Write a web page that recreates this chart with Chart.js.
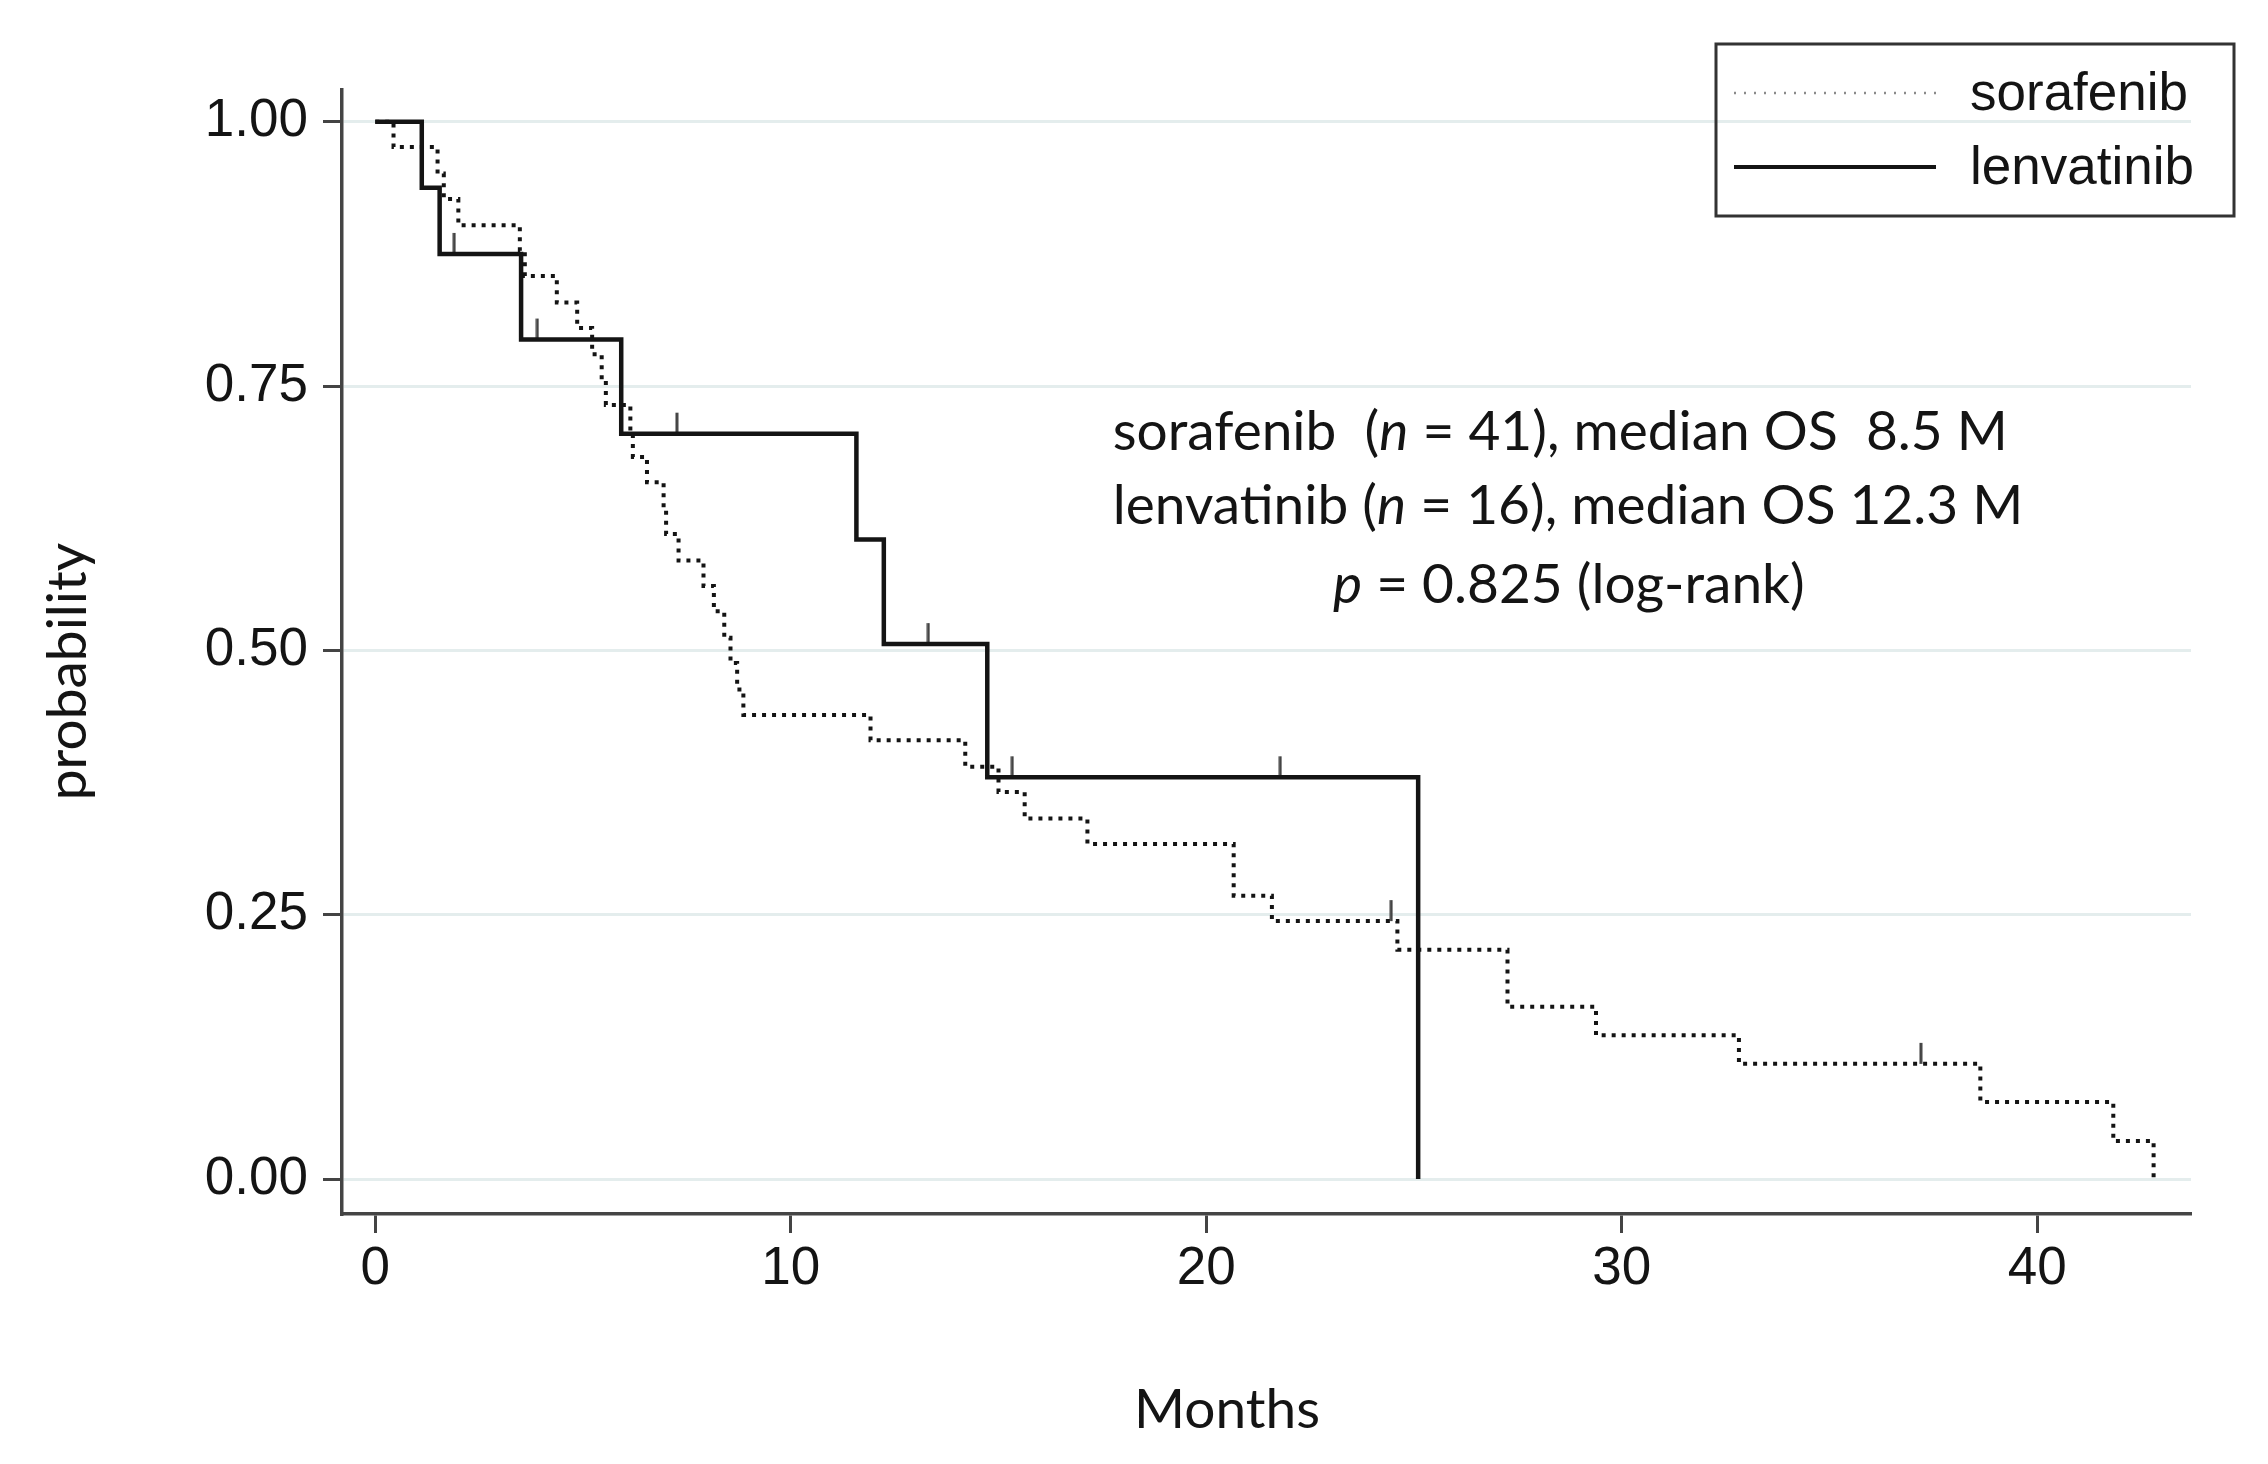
<!DOCTYPE html>
<html>
<head>
<meta charset="utf-8">
<script src="https://cdn.jsdelivr.net/npm/chart.js@4.4.4/dist/chart.umd.min.js"></script>
<style>
  html, body { margin: 0; padding: 0; background: #fff; }
  #wrap { width: 2268px; height: 1464px; position: relative; }
</style>
</head>
<body>
<div id="wrap"><canvas id="km"></canvas></div>
<script>
// Kaplan-Meier overall survival, sorafenib vs lenvatinib
const sorafenibMonths = [0, 0.44, 1.5, 1.65, 2.0, 3.48, 3.6, 4.37, 4.86, 5.22, 5.45, 5.55, 6.14, 6.2, 6.54, 6.94, 7.0, 7.3, 7.9, 8.15, 8.4, 8.55, 8.71, 8.86, 11.92, 14.2, 15.0, 15.63, 17.14, 20.66, 21.58, 24.6, 27.25, 29.38, 32.82, 38.63, 41.83, 42.8];
const sorafenibSurv = [1, 0.976, 0.951, 0.927, 0.902, 0.878, 0.854, 0.829, 0.805, 0.780, 0.756, 0.732, 0.707, 0.683, 0.659, 0.634, 0.610, 0.585, 0.561, 0.537, 0.512, 0.488, 0.463, 0.439, 0.415, 0.390, 0.366, 0.341, 0.317, 0.268, 0.244, 0.217, 0.163, 0.136, 0.109, 0.073, 0.036, 0];
const lenvatinibMonths = [0, 1.12, 1.55, 3.51, 5.92, 11.58, 12.24, 14.73, 25.1];
const lenvatinibSurv = [1, 0.9375, 0.875, 0.794, 0.705, 0.605, 0.506, 0.38, 0];

// censored observations (tick marks)
const sorafenibCensorMonths = [24.45, 37.2];
const sorafenibCensorSurv = [0.244, 0.109];
const lenvatinibCensorMonths = [1.9, 3.9, 7.26, 13.31, 15.33, 21.78];
const lenvatinibCensorSurv = [0.875, 0.794, 0.705, 0.506, 0.38, 0.38];

const seriesNames = ['sorafenib', 'lenvatinib'];
const xTicks = [0, 10, 20, 30, 40];
const yTicks = [0, 0.25, 0.5, 0.75, 1];
const yTickLabels = ['0.00', '0.25', '0.50', '0.75', '1.00'];
const xTitle = 'Months';
const yTitle = 'probability';

// annotation text: [text, italic]
const noteLine1 = [['sorafenib  (', false], ['n', true], [' = 41), median OS  8.5 M', false]];
const noteLine2 = [['lenvatinib (', false], ['n', true], [' = 16), median OS 12.3 M', false]];
const noteLine3 = [['p', true], [' = 0.825 (log-rank)', false]];

const INK = '#141414';
const TICK_FONT = { family: '"Liberation Sans", Arial, sans-serif', size: 53 };
const TITLE_FAMILY = 'Lato, "Open Sans", sans-serif';

function toPoints(xs, ys) {
    return xs.map((x, i) => ({ x, y: ys[i] }));
}

// small vertical stroke sitting on top of the point
function censorMark() {
    const c = document.createElement('canvas');
    c.width = 4;
    c.height = 44;
    const g = c.getContext('2d');
    g.fillStyle = '#444';
    g.fillRect(0.5, 1, 3, 21);
    return c;
}

function drawRich(ctx, parts, x, y, size) {
    let cx = x;
    for (const [txt, it] of parts) {
        ctx.font = `${it ? 'italic ' : ''}${size}px ${TITLE_FAMILY}`;
        ctx.fillText(txt, cx, y);
        cx += ctx.measureText(txt).width;
    }
}

const notesPlugin = {
    id: 'kmNotes',
    afterDraw(chart) {
        const { ctx, scales } = chart;
        const x = scales.x, y = scales.y;
        ctx.save();
        ctx.fillStyle = INK;
        ctx.textBaseline = 'middle';
        drawRich(ctx, noteLine1, x.getPixelForValue(17.75), y.getPixelForValue(0.706), 55);
        drawRich(ctx, noteLine2, x.getPixelForValue(17.75), y.getPixelForValue(0.636), 55);
        drawRich(ctx, noteLine3, x.getPixelForValue(23.05), y.getPixelForValue(0.562), 55);

        // axis titles
        ctx.font = `55px ${TITLE_FAMILY}`;
        ctx.textAlign = 'center';
        ctx.fillText(xTitle, x.getPixelForValue(20.5), 1410);
        ctx.save();
        ctx.translate(68, y.getPixelForValue(0.48));
        ctx.rotate(-Math.PI / 2);
        ctx.fillText(yTitle, 0, 0);
        ctx.restore();
        ctx.textAlign = 'left';

        // legend box, top right
        const bx = 1716, by = 44, bw = 518, bh = 172;
        ctx.strokeStyle = '#333';
        ctx.lineWidth = 3;
        ctx.strokeRect(bx, by, bw, bh);
        ctx.lineWidth = 2.5;
        ctx.strokeStyle = '#8a8a8a';
        ctx.setLineDash([2, 8]);
        ctx.beginPath();
        ctx.moveTo(bx + 18, by + 49);
        ctx.lineTo(bx + 220, by + 49);
        ctx.stroke();
        ctx.setLineDash([]);
        ctx.strokeStyle = INK;
        ctx.lineWidth = 4;
        ctx.beginPath();
        ctx.moveTo(bx + 18, by + 123);
        ctx.lineTo(bx + 220, by + 123);
        ctx.stroke();
        ctx.font = `53px ${TICK_FONT.family}`;
        ctx.fillStyle = INK;
        ctx.fillText(seriesNames[0], bx + 254, by + 51);
        ctx.fillText(seriesNames[1], bx + 254, by + 125);
        ctx.restore();
    },
};

const mark = censorMark();

new Chart(document.getElementById('km'), {
    type: 'line',
    data: {
        datasets: [
            { label: seriesNames[0], data: toPoints(sorafenibMonths, sorafenibSurv), stepped: 'before', borderColor: INK, borderWidth: 4, borderDash: [4, 6], pointRadius: 0, fill: false },
            { label: seriesNames[1], data: toPoints(lenvatinibMonths, lenvatinibSurv), stepped: 'before', borderColor: INK, borderWidth: 4.5, pointRadius: 0, fill: false },
            { type: 'scatter', label: 'sorafenib censored', data: toPoints(sorafenibCensorMonths, sorafenibCensorSurv), pointStyle: mark, pointRadius: 10 },
            { type: 'scatter', label: 'lenvatinib censored', data: toPoints(lenvatinibCensorMonths, lenvatinibCensorSurv), pointStyle: mark, pointRadius: 10 },
        ],
    },
    options: {
        responsive: true,
        maintainAspectRatio: false,
        devicePixelRatio: 1,
        animation: false,
        events: [],
        layout: { padding: { top: 90, right: 77, left: 0, bottom: 0 } },
        plugins: { legend: { display: false }, tooltip: { enabled: false } },
        scales: {
            x: {
                type: 'linear',
                min: -0.8,
                max: 43.7,
                afterFit(s) { s.height = 250; },
                afterBuildTicks(s) { s.ticks = xTicks.map((v) => ({ value: v })); },
                grid: { drawOnChartArea: false, drawTicks: true, tickLength: 19, tickWidth: 3, tickColor: '#444' },
                border: { display: true, color: '#444', width: 3.5 },
                ticks: { color: INK, font: TICK_FONT, padding: 5, maxRotation: 0, autoSkip: false },
            },
            y: {
                type: 'linear',
                min: -0.033,
                max: 1.03,
                afterFit(s) { s.width = 342; },
                afterBuildTicks(s) { s.ticks = yTicks.map((v) => ({ value: v })); },
                grid: { color: '#e4eded', lineWidth: 3, drawTicks: true, tickLength: 19, tickWidth: 3, tickColor: '#444' },
                border: { display: true, color: '#444', width: 3.5 },
                ticks: {
                    color: INK,
                    font: TICK_FONT,
                    padding: 15,
                    autoSkip: false,
                    callback(v) { const i = yTicks.indexOf(v); return i >= 0 ? yTickLabels[i] : ''; },
                },
            },
        },
    },
    plugins: [notesPlugin],
});
</script>
</body>
</html>
